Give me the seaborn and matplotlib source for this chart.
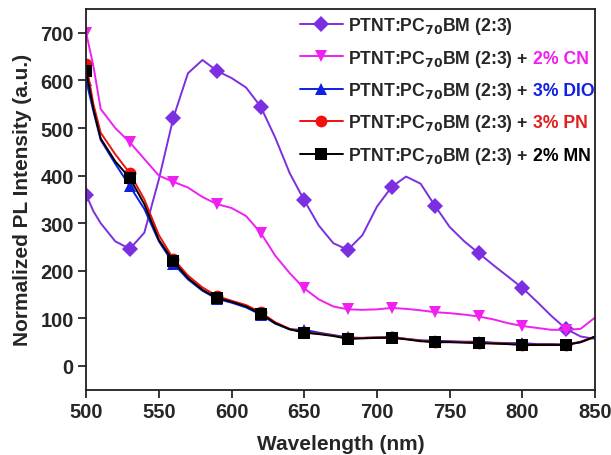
import numpy as np
import pandas as pd
import matplotlib
matplotlib.use("Agg")
import matplotlib.pyplot as plt
import seaborn as sns

sns.set_theme(style="white")
plt.rcParams['font.family'] = ['Liberation Sans', 'DejaVu Sans']
plt.rcParams['font.weight'] = 'bold'
plt.rcParams['mathtext.default'] = 'bf'

# wavelength grid (nm)
wl = [500, 505, 510, 520, 530, 540, 550, 560, 570, 580, 590, 600, 610, 620, 630,
      640, 650, 660, 670, 680, 690, 700, 710, 720, 730, 740, 750, 760, 770, 780,
      790, 800, 810, 820, 830, 840, 850]

pristine = [360, 325, 300, 262, 246, 280, 392, 522, 615, 643, 620, 605, 585, 545, 480,
            405, 348, 295, 258, 244, 275, 335, 376, 398, 383, 336, 292, 262, 237, 212,
            188, 164, 135, 105, 78, 62, 57]
cn = [700, 630, 540, 500, 470, 435, 400, 387, 375, 355, 340, 332, 315, 280, 232,
      195, 163, 140, 125, 119, 118, 119, 122, 120, 117, 113, 111, 108, 104, 98,
      90, 84, 80, 76, 76, 78, 102]
dio = [600, 535, 475, 425, 378, 330, 262, 215, 182, 158, 141, 133, 123, 108, 89,
       77, 76, 70, 65, 60, 59, 60, 61, 57, 54, 53, 52, 51, 51, 49,
       48, 48, 46, 46, 45, 50, 61]
pn = [635, 550, 490, 445, 405, 350, 275, 225, 190, 165, 147, 137, 128, 113, 92,
      78, 71, 68, 64, 58, 59, 60, 60, 57, 53, 51, 51, 50, 49, 48,
      47, 45, 45, 45, 45, 51, 62]
mn = [620, 540, 478, 430, 395, 340, 265, 220, 185, 160, 143, 135, 125, 110, 90,
      77, 70, 67, 63, 57, 58, 59, 59, 56, 52, 50, 50, 49, 48, 47,
      46, 44, 44, 44, 44, 50, 62]

base = r"PTNT:PC$_{70}$BM (2:3)"
series = [
    (pristine, "#7B2FE0", "D", "", None),
    (cn, "#F020F0", "v", "2% CN", "#F020F0"),
    (dio, "#1020E0", "^", "3% DIO", "#1020E0"),
    (pn, "#F01010", "o", "3% PN", "#E02020"),
    (mn, "black", "s", "2% MN", "black"),
]

x = np.array(wl)
marks = list((x - 500) % 30 == 0)

fig, ax = plt.subplots(figsize=(6.11, 4.56), dpi=100)
fig.subplots_adjust(left=0.141, right=0.974, top=0.978, bottom=0.143)

for vals, col, mk, add, tcol in series:
    df = pd.DataFrame({"wl": wl, "pl": vals})
    label = base if add == "" else base + " +"
    sns.lineplot(data=df, x="wl", y="pl", ax=ax, color=col, marker=mk,
                 markersize=8.5, markeredgewidth=0, markevery=marks,
                 linewidth=1.4, label=label)

ax.set_xlim(500, 850)
ax.set_ylim(-50, 750)
ax.set_xticks(range(500, 851, 50))
ax.set_yticks(range(0, 701, 100))
ax.tick_params(axis="both", labelsize=14.5, length=6, width=1.3, direction="out",
               bottom=True, left=True, top=False, right=False, pad=3)
for lab in ax.get_xticklabels() + ax.get_yticklabels():
    lab.set_fontweight("bold")
for sp in ax.spines.values():
    sp.set_linewidth(1.3)
    sp.set_color("#202020")
ax.set_xlabel("Wavelength (nm)", fontsize=15, fontweight="bold", labelpad=9)
ax.set_ylabel("Normalized PL Intensity (a.u.)", fontsize=15, fontweight="bold", labelpad=6)

leg = ax.legend(loc="upper left", bbox_to_anchor=(0.4, 1.012), frameon=False,
                fontsize=12.7, handlelength=2.4, labelspacing=0.65, handletextpad=0.3,
                borderaxespad=0.2)
for t in leg.get_texts():
    t.set_fontweight("bold")

# coloured additive names after the black part of each label
fig.canvas.draw()
for t, (vals, col, mk, add, tcol) in zip(leg.get_texts(), series):
    if add:
        ax.annotate(add, xy=(1, 0.5), xycoords=t, xytext=(3.5, 0),
                    textcoords="offset points", ha="left", va="center",
                    fontsize=12.7, fontweight="bold", color=tcol)

fig.savefig("out.png", dpi=100)
